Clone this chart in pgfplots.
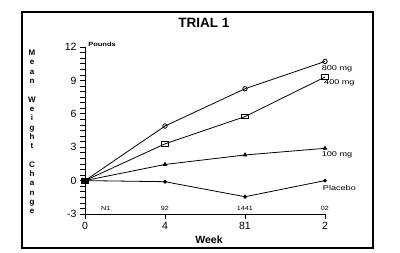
\documentclass[border=0pt]{standalone}
\usepackage{fontspec}
\setmainfont{Liberation Sans}
\usepackage{pgfplots}
\pgfplotsset{compat=1.18}
\begin{document}
\begin{tikzpicture}
\path[use as bounding box] (0pt,0pt) rectangle (400pt,253pt);
\draw[line width=2.2pt] (22pt,5pt) rectangle (373pt,241pt);
\node[font=\bfseries\fontsize{13.5}{15}\selectfont] at (204pt,230pt) {TRIAL 1};
\node[font=\bfseries\fontsize{6}{7}\selectfont, xscale=1.25] at (102pt,209pt) {Pounds};
\node[font=\bfseries\fontsize{8}{9.3}\selectfont, align=center, inner sep=0pt] at (32pt,121pt)
  {M\\e\\a\\n\\~\\W\\e\\i\\g\\h\\t\\~\\C\\h\\a\\n\\g\\e};
\node[font=\bfseries\fontsize{10.5}{12}\selectfont] at (209pt,13pt) {Week};
\begin{axis}[
  at={(85pt,39pt)}, anchor=south west,
  scale only axis, width=240pt, height=167pt,
  xmin=0, xmax=3, ymin=-3, ymax=12,
  axis lines*=left, clip=false,
  xtick={0,1,2,3}, xticklabels={0,4,81,2},
  ytick={-3,0,3,6,9,12}, minor y tick num=5,
  tick align=outside, major tick length=5pt, minor tick length=5pt,
  tick style={black, line width=0.6pt},
  axis line style={line width=0.8pt},
  ticklabel style={font=\fontsize{10.5}{12}\selectfont},
  /pgf/number format/assume math mode=true,
  every axis plot/.append style={black, line width=0.8pt},
]
\addplot[mark=o, mark size=2.2pt, mark options={fill=white}] coordinates {(0,0)(1,4.9)(2,8.25)(3,10.7)};
\addplot[mark=square, mark size=2.4pt, mark options={fill=white, xscale=1.4, line width=1pt}] coordinates {(0,0)(1,3.3)(2,5.75)(3,9.3)};
\addplot[mark=triangle*, mark size=2pt] coordinates {(0,0)(1,1.45)(2,2.3)(3,2.9)};
\addplot[mark=*, mark size=1.5pt] coordinates {(0,0)(1,-0.1)(2,-1.45)(3,0.0)};
\addplot[only marks, mark=square*, mark size=2.4pt, mark options={xscale=1.4}] coordinates {(0,0)};
\node[font=\fontsize{7}{8}\selectfont, xscale=1.3] at (axis cs:3.15,10.0) {800 mg};
\node[font=\fontsize{7}{8}\selectfont, xscale=1.3] at (axis cs:3.18,8.75) {400 mg};
\node[font=\fontsize{7}{8}\selectfont, xscale=1.3] at (axis cs:3.15,2.3) {100 mg};
\node[font=\fontsize{7}{8}\selectfont, xscale=1.3] at (axis cs:3.18,-0.7) {Placebo};
\node[font=\fontsize{6}{7}\selectfont, xscale=1.2] at (axis cs:0.26,-2.5) {N1};
\node[font=\fontsize{6}{7}\selectfont, xscale=1.2] at (axis cs:1,-2.5) {92};
\node[font=\fontsize{6}{7}\selectfont, xscale=1.2] at (axis cs:2,-2.5) {1441};
\node[font=\fontsize{6}{7}\selectfont, xscale=1.2] at (axis cs:3,-2.5) {02};
\end{axis}
\end{tikzpicture}
\end{document}
